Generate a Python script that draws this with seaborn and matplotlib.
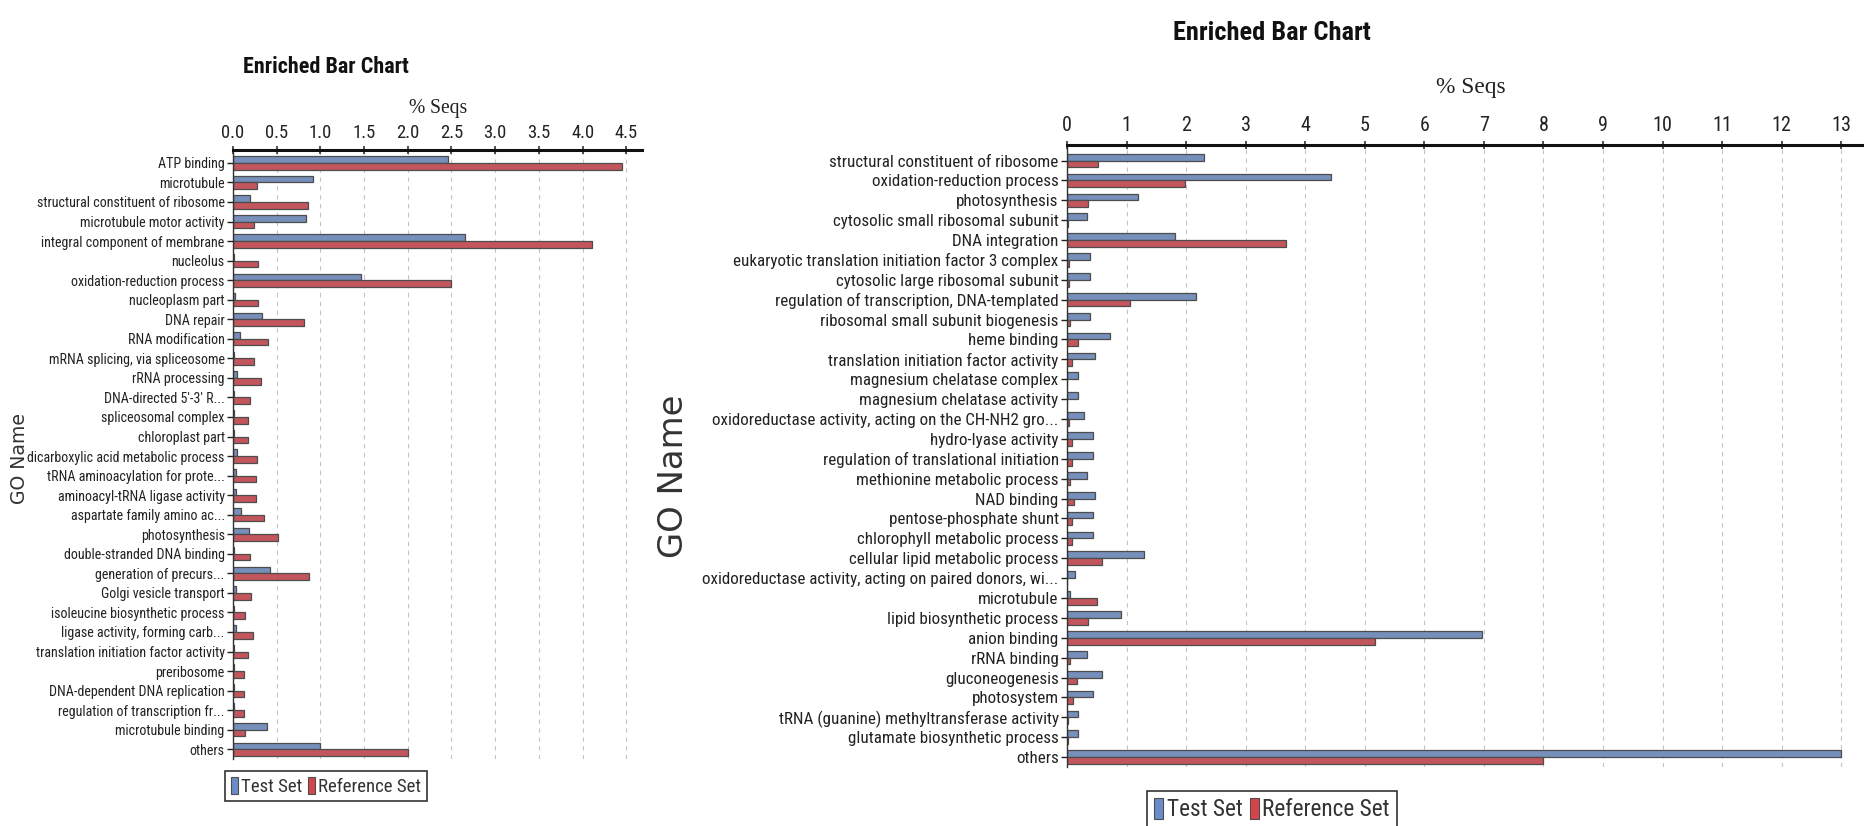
import matplotlib
matplotlib.use("Agg")
import matplotlib.pyplot as plt
import seaborn as sns
import pandas as pd
from matplotlib.patches import Patch
from matplotlib import font_manager as fm
from matplotlib.textpath import TextPath
from matplotlib.font_manager import FontProperties

# ---------------- data ----------------
left_terms = [
    "ATP binding", "microtubule", "structural constituent of ribosome",
    "microtubule motor activity", "integral component of membrane", "nucleolus",
    "oxidation-reduction process", "nucleoplasm part", "DNA repair",
    "RNA modification", "mRNA splicing, via spliceosome", "rRNA processing",
    "DNA-directed 5'-3' R...", "spliceosomal complex", "chloroplast part",
    "dicarboxylic acid metabolic process", "tRNA aminoacylation for prote...",
    "aminoacyl-tRNA ligase activity", "aspartate family amino ac...",
    "photosynthesis", "double-stranded DNA binding", "generation of precurs...",
    "Golgi vesicle transport", "isoleucine biosynthetic process",
    "ligase activity, forming carb...", "translation initiation factor activity",
    "preribosome", "DNA-dependent DNA replication",
    "regulation of transcription fr...", "microtubule binding", "others",
]
left_test = [2.46, 0.91, 0.20, 0.83, 2.65, 0.01, 1.46, 0.02, 0.33, 0.08, 0.01,
             0.05, 0.01, 0.01, 0.01, 0.05, 0.04, 0.04, 0.09, 0.18, 0.01, 0.42,
             0.03, 0.01, 0.04, 0.01, 0.01, 0.01, 0.01, 0.39, 1.00]
left_ref = [4.45, 0.27, 0.86, 0.24, 4.11, 0.29, 2.50, 0.29, 0.81, 0.40, 0.24,
            0.32, 0.19, 0.17, 0.17, 0.28, 0.26, 0.26, 0.35, 0.52, 0.19, 0.87,
            0.21, 0.14, 0.23, 0.17, 0.13, 0.13, 0.13, 0.14, 2.00]

right_terms = [
    "structural constituent of ribosome", "oxidation-reduction process",
    "photosynthesis", "cytosolic small ribosomal subunit", "DNA integration",
    "eukaryotic translation initiation factor 3 complex",
    "cytosolic large ribosomal subunit", "regulation of transcription, DNA-templated",
    "ribosomal small subunit biogenesis", "heme binding",
    "translation initiation factor activity", "magnesium chelatase complex",
    "magnesium chelatase activity",
    "oxidoreductase activity, acting on the CH-NH2 gro...",
    "hydro-lyase activity", "regulation of translational initiation",
    "methionine metabolic process", "NAD binding", "pentose-phosphate shunt",
    "chlorophyll metabolic process", "cellular lipid metabolic process",
    "oxidoreductase activity, acting on paired donors, wi...", "microtubule",
    "lipid biosynthetic process", "anion binding", "rRNA binding",
    "gluconeogenesis", "photosystem", "tRNA (guanine) methyltransferase activity",
    "glutamate biosynthetic process", "others",
]
right_test = [2.30, 4.43, 1.19, 0.33, 1.82, 0.38, 0.38, 2.17, 0.38, 0.72, 0.47,
              0.19, 0.19, 0.29, 0.44, 0.44, 0.33, 0.47, 0.44, 0.44, 1.30, 0.14,
              0.05, 0.90, 6.97, 0.33, 0.58, 0.44, 0.19, 0.19, 13.0]
right_ref = [0.52, 1.98, 0.35, 0.01, 3.68, 0.03, 0.03, 1.05, 0.05, 0.19, 0.09,
             0.00, 0.00, 0.04, 0.08, 0.09, 0.05, 0.11, 0.09, 0.09, 0.59, 0.00,
             0.51, 0.35, 5.18, 0.05, 0.17, 0.10, 0.01, 0.01, 8.00]

left_ticks = [0.0, 0.5, 1.0, 1.5, 2.0, 2.5, 3.0, 3.5, 4.0, 4.5]
left_ticklabels = ["0.0", "0.5", "1.0", "1.5", "2.0", "2.5", "3.0", "3.5", "4.0", "4.5"]
right_ticks = list(range(0, 14))

set_names = ["Test Set", "Reference Set"]
BLUE = "#6b8cc6"
RED = "#d4444c"
EDGE = "#4d4d4d"

# ---------------- fonts ----------------
sns.set_style("white")
plt.rcParams["font.family"] = ["Liberation Sans", "DejaVu Sans"]

_entries = fm.fontManager.ttflist
_names = {f.name for f in _entries}


def narrow_kw():
    for cand in ["Liberation Sans Narrow", "Roboto Condensed", "Open Sans Condensed",
                 "Noto Sans Condensed", "DejaVu Sans Condensed", "Arial Narrow"]:
        if cand in _names:
            return dict(family=cand)
    cond = [f for f in _entries
            if str(f.stretch) in ("condensed", "semi-condensed", "extra-condensed")]
    for pref in ["Liberation Sans", "Noto Sans", "Open Sans", "Roboto", "DejaVu Sans"]:
        for f in cond:
            if f.name == pref:
                return dict(family=pref, stretch=str(f.stretch))
    return dict(family="Liberation Sans")


NKW = narrow_kw()
SERIF_KW = dict(family=["Liberation Serif", "DejaVu Serif"])
GO_KW = dict(family=["DejaVu Sans"])


def fp(kw, size, weight="normal"):
    return FontProperties(size=size, weight=weight, **kw)


def fit_size(text, kw, target_px, weight="normal"):
    w = TextPath((0, 0), text, size=10, prop=fp(kw, 10, weight)).get_extents().width
    w_px = w * 100.0 / 72.0
    return 10.0 * target_px / w_px


fig = plt.figure(figsize=(18.65, 8.26), dpi=100)
W, H = 1865.0, 826.0


def rect(x0, y0, x1, y1):
    return [x0 / W, 1 - y1 / H, (x1 - x0) / W, (y1 - y0) / H]


def long_df(terms, test, ref):
    n = len(terms)
    return pd.DataFrame({
        "GO Name": list(terms) * 2,
        "Set": [set_names[0]] * n + [set_names[1]] * n,
        "pct": list(test) + list(ref),
    })


def draw(ax, terms, test, ref, xmax, ticks, ticklabels, ytop, ylab_fp, xlab_fp, xpad):
    df = long_df(terms, test, ref)
    sns.barplot(data=df, y="GO Name", x="pct", hue="Set", hue_order=set_names,
                order=terms, palette={set_names[0]: BLUE, set_names[1]: RED},
                orient="h", width=0.68, edgecolor=EDGE, linewidth=0.9,
                legend=False, ax=ax)
    ax.set_xlim(0, xmax)
    ax.set_ylim(len(terms) - 0.5, ytop)
    ax.xaxis.tick_top()
    ax.set_xticks(ticks)
    ax.set_xticklabels(ticklabels)
    ax.set_xlabel("")
    ax.set_ylabel("")
    ax.tick_params(axis="x", top=True, bottom=False, direction="inout", length=6,
                   width=1.1, pad=xpad, colors="#222222")
    ax.tick_params(axis="y", left=True, direction="out", length=4, width=1.0,
                   pad=2, colors="#222222")
    for lbl in ax.get_xticklabels():
        lbl.set_fontproperties(xlab_fp)
    for lbl in ax.get_yticklabels():
        lbl.set_fontproperties(ylab_fp)
    ax.grid(axis="x", linestyle=(0, (4, 4)), color="#c4c4c4", linewidth=0.8)
    ax.grid(axis="y", visible=False)
    ax.set_axisbelow(True)
    for s in ("right", "bottom"):
        ax.spines[s].set_visible(False)
    ax.spines["top"].set_linewidth(2.2)
    ax.spines["top"].set_color("#111111")
    ax.spines["left"].set_linewidth(1.0)
    ax.spines["left"].set_color("#333333")


# label sizes fitted to the reference widths
sL = fit_size("structural constituent of ribosome", NKW, 187)
sR = fit_size("oxidoreductase activity, acting on paired donors, wi...", NKW, 355)
sXL = fit_size("4.5", NKW, 22)
sXR = fit_size("13", NKW, 17)

# left panel
axL = fig.add_axes(rect(233, 150, 642, 759))
draw(axL, left_terms, left_test, left_ref, 4.68, left_ticks, left_ticklabels,
     -0.66, fp(NKW, sL), fp(NKW, sXL), 3)

# right panel
axR = fig.add_axes(rect(1067, 145, 1865, 767))
draw(axR, right_terms, right_test, right_ref, 13.4, right_ticks,
     [str(t) for t in right_ticks], -0.78, fp(NKW, sR), fp(NKW, sXR), 4)

# titles and axis labels
sTL = fit_size("Enriched Bar Chart", NKW, 164, "bold")
sTR = fit_size("Enriched Bar Chart", NKW, 196, "bold")
fig.text(326 / W, 1 - 67 / H, "Enriched Bar Chart", ha="center", va="center",
         fontproperties=fp(NKW, sTL, "bold"), color="#111111")
fig.text(1272 / W, 1 - 33 / H, "Enriched Bar Chart", ha="center", va="center",
         fontproperties=fp(NKW, sTR, "bold"), color="#111111")

sSL = fit_size("% Seqs", SERIF_KW, 57)
sSR = fit_size("% Seqs", SERIF_KW, 68)
fig.text(438 / W, 1 - 108 / H, "% Seqs", ha="center", va="center",
         fontproperties=fp(SERIF_KW, sSL), color="#222222")
fig.text(1471 / W, 1 - 88 / H, "% Seqs", ha="center", va="center",
         fontproperties=fp(SERIF_KW, sSR), color="#222222")

sGL = fit_size("GO Name", GO_KW, 89)
sGR = fit_size("GO Name", GO_KW, 160)
fig.text(20 / W, 1 - 458 / H, "GO Name", ha="center", va="center", rotation=90,
         fontproperties=fp(GO_KW, sGL), color="#333333")
fig.text(674 / W, 1 - 476 / H, "GO Name", ha="center", va="center", rotation=90,
         fontproperties=fp(GO_KW, sGR), color="#333333")

# legends
handles = [Patch(facecolor=BLUE, edgecolor=EDGE, linewidth=0.8),
           Patch(facecolor=RED, edgecolor=EDGE, linewidth=0.8)]
for (cx, top, tw) in [(326, 771, 60), (1272, 791, 74)]:
    s = fit_size("Test Set", NKW, tw)
    leg = fig.legend(handles, set_names, loc="upper center",
                     bbox_to_anchor=(cx / W, 1 - top / H), ncol=2, frameon=True,
                     fancybox=False, edgecolor="black", prop=fp(NKW, s),
                     handlelength=0.4, handleheight=1.0, handletextpad=0.15,
                     columnspacing=0.3, borderpad=0.3, borderaxespad=0)
    leg.get_frame().set_linewidth(1.2)
    for t in leg.get_texts():
        t.set_color("#333333")

fig.savefig("out.png", dpi=100, facecolor="white")
